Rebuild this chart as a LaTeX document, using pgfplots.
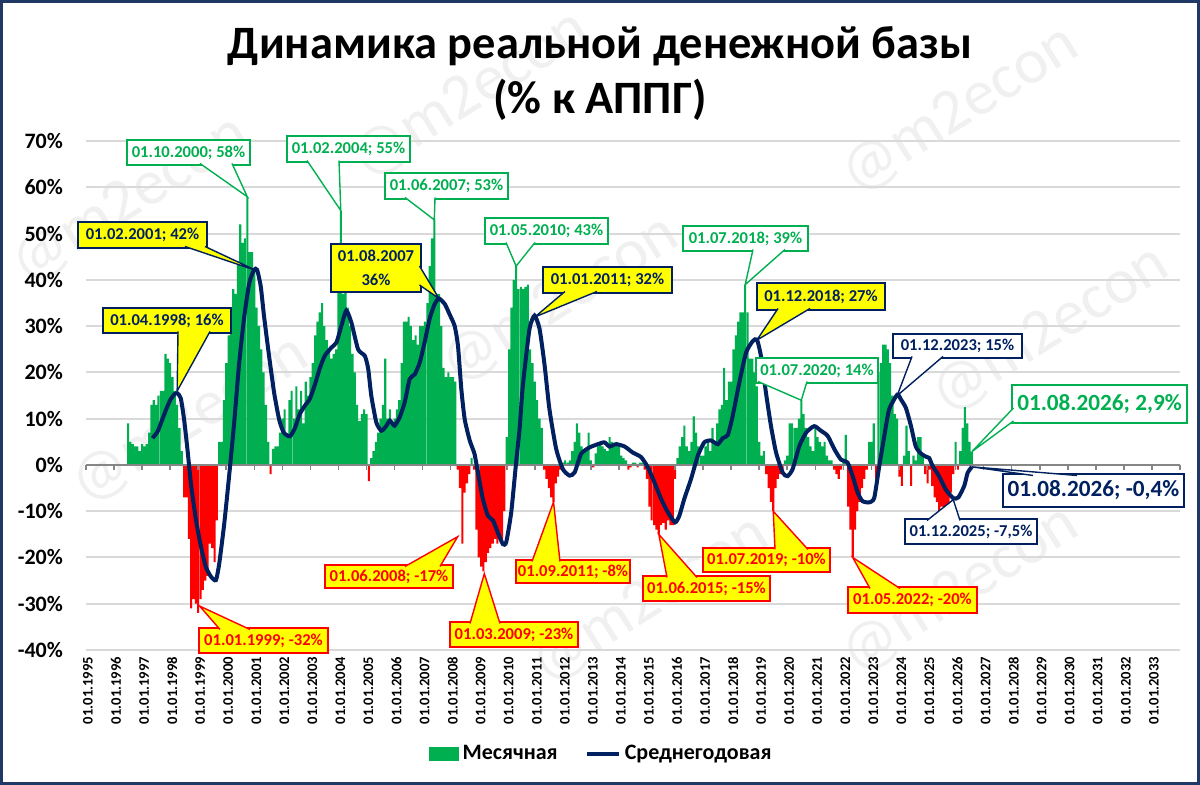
\documentclass[border=0pt]{standalone}
\usepackage{fontspec}
\setmainfont{Carlito}
\usepackage{pgfplots}
\usepackage{pgfplotstable}
\pgfplotsset{compat=1.18}
\definecolor{xgreen}{RGB}{0,176,80}
\definecolor{xred}{RGB}{255,0,0}
\definecolor{xnavy}{RGB}{0,32,96}
\definecolor{xyellow}{RGB}{255,255,0}
\definecolor{xgrid}{RGB}{217,217,217}
\definecolor{xborder}{RGB}{31,56,100}
\definecolor{xaxis}{RGB}{134,134,134}
\definecolor{xwm}{RGB}{240,240,240}

\pgfplotstableread{
yr m v
1996 7 9
1996 8 5
1996 9 4.5
1996 10 4
1996 11 4
1996 12 3
1997 1 4.5
1997 2 4
1997 3 4.5
1997 4 7
1997 5 13
1997 6 14
1997 7 13
1997 8 15
1997 9 16
1997 10 16
1997 11 24
1997 12 23
1998 1 22
1998 2 19
1998 3 16
1998 4 13
1998 5 8
1998 6 3
1998 7 -7
1998 8 -7
1998 9 -16
1998 10 -31
1998 11 -29
1998 12 -30
1999 1 -32
1999 2 -29
1999 3 -27
1999 4 -25
1999 5 -24
1999 6 -17
1999 7 -18
1999 8 -21
1999 9 -12
1999 10 5
1999 11 5
1999 12 14
2000 1 22
2000 2 28
2000 3 34
2000 4 38
2000 5 37
2000 6 44
2000 7 52
2000 8 48
2000 9 49
2000 10 58
2000 11 46
2000 12 46
2001 1 42
2001 2 34
2001 3 30
2001 4 25
2001 5 20
2001 6 13
2001 7 5
2001 8 -2
2001 9 3.5
2001 10 4
2001 11 4
2001 12 7
2002 1 10
2002 2 12
2002 3 6
2002 4 14
2002 5 16
2002 6 10
2002 7 17
2002 8 12
2002 9 16
2002 10 9
2002 11 18
2002 12 15
2003 1 19
2003 2 22
2003 3 28
2003 4 31
2003 5 33
2003 6 35
2003 7 30
2003 8 27
2003 9 25
2003 10 23
2003 11 24
2003 12 25
2004 1 38
2004 2 55
2004 3 37
2004 4 38
2004 5 34
2004 6 30
2004 7 24
2004 8 20
2004 9 13
2004 10 9.5
2004 11 11
2004 12 12
2005 1 11
2005 2 -3.5
2005 3 1.5
2005 4 3
2005 5 5
2005 6 7
2005 7 10
2005 8 13
2005 9 23
2005 10 10
2005 11 12
2005 12 9
2006 1 10
2006 2 12
2006 3 14
2006 4 22
2006 5 31
2006 6 31
2006 7 32
2006 8 30
2006 9 27
2006 10 28
2006 11 26
2006 12 30
2007 1 30
2007 2 31
2007 3 35
2007 4 43
2007 5 49
2007 6 53
2007 7 37
2007 8 37
2007 9 30
2007 10 21
2007 11 19
2007 12 20
2008 1 19
2008 2 19
2008 3 18
2008 4 -1
2008 5 -5
2008 6 -17
2008 7 -6
2008 8 -4
2008 9 -2
2008 10 1.5
2008 11 -1
2008 12 -14
2009 1 -20
2009 2 -22
2009 3 -23
2009 4 -21
2009 5 -19
2009 6 -18
2009 7 -17
2009 8 -16
2009 9 -17
2009 10 -16
2009 11 -17
2009 12 -10
2010 1 6
2010 2 25
2010 3 34
2010 4 40
2010 5 43
2010 6 38
2010 7 38.5
2010 8 38
2010 9 38.5
2010 10 39
2010 11 25
2010 12 22
2011 1 18
2011 2 14
2011 3 10
2011 4 8
2011 5 -1
2011 6 -3
2011 7 -5
2011 8 -7
2011 9 -8
2011 10 -4
2011 11 -2.5
2011 12 -1
2012 1 0.5
2012 2 1
2012 3 0.5
2012 4 1
2012 5 3
2012 6 5
2012 7 9
2012 8 7
2012 9 4
2012 10 3
2012 11 3
2012 12 7
2013 1 1
2013 2 -0.5
2013 3 2.5
2013 4 4
2013 5 5
2013 6 4
2013 7 3.5
2013 8 3
2013 9 6
2013 10 5
2013 11 4
2013 12 5
2014 1 4
2014 2 2
2014 3 1.5
2014 4 1
2014 5 -1
2014 6 -0.5
2014 7 0.5
2014 8 0.5
2014 9 -0.5
2014 10 0.5
2014 11 0.5
2014 12 -1
2015 1 -3
2015 2 -9
2015 3 -12
2015 4 -13
2015 5 -14
2015 6 -15
2015 7 -13
2015 8 -12.5
2015 9 -14
2015 10 -12
2015 11 -13
2015 12 -13
2016 1 -3
2016 2 1.5
2016 3 4
2016 4 6
2016 5 8.5
2016 6 4
2016 7 3
2016 8 5
2016 9 10.5
2016 10 7
2016 11 4
2016 12 2
2017 1 2
2017 2 4
2017 3 5
2017 4 3
2017 5 8
2017 6 5
2017 7 9
2017 8 12
2017 9 13
2017 10 21
2017 11 14
2017 12 18
2018 1 18
2018 2 25
2018 3 28
2018 4 31
2018 5 33
2018 6 33
2018 7 39
2018 8 33
2018 9 23
2018 10 23
2018 11 20
2018 12 17
2019 1 5
2019 2 2
2019 3 3
2019 4 -2
2019 5 -5
2019 6 -8
2019 7 -10
2019 8 -5
2019 9 -3
2019 10 -2
2019 11 -1
2019 12 1
2020 1 2
2020 2 9
2020 3 9
2020 4 8
2020 5 8
2020 6 10
2020 7 14
2020 8 11
2020 9 8
2020 10 6
2020 11 4
2020 12 3
2021 1 8
2021 2 6
2021 3 5
2021 4 4
2021 5 5
2021 6 2
2021 7 1
2021 8 1
2021 9 -1
2021 10 -2
2021 11 -3
2021 12 -1
2022 1 1
2022 2 6.5
2022 3 -9
2022 4 -14
2022 5 -20
2022 6 -14
2022 7 -10
2022 8 -8
2022 9 -5
2022 10 -3
2022 11 -1
2022 12 5
2023 1 5
2023 2 9
2023 3 -3
2023 4 20
2023 5 22
2023 6 26
2023 7 26
2023 8 25
2023 9 22
2023 10 15
2023 11 11
2023 12 10
2024 1 -2.5
2024 2 -4.5
2024 3 2
2024 4 8.5
2024 5 3
2024 6 -4.5
2024 7 2
2024 8 1
2024 9 6
2024 10 6
2024 11 2
2024 12 -2
2025 1 -4
2025 2 -1
2025 3 -4.5
2025 4 -7
2025 5 -8
2025 6 -10
2025 7 -9
2025 8 -10
2025 9 -9
2025 10 -9.5
2025 11 -6
2025 12 -2
2026 1 5
2026 2 -1
2026 3 3
2026 4 8
2026 5 12.5
2026 6 9
2026 7 5
2026 8 2.9
}\monthly

% #1 fill, #2 border/text colour, #3 font, #4 top-left, #5 bottom-right, #6 a, #7 b, #8 tip, #9 text
\newcommand\callout[9]{%
  \filldraw[fill=#1,draw=#2,line width=0.7pt] #4 rectangle #5;
  \fill[#1] #6 -- #8 -- #7 -- cycle;
  \draw[#2,line width=0.7pt,line join=miter] #6 -- #8 -- #7;
  \path #4 -- #5 node[midway,text=#2,font=#3,align=center,inner sep=0pt] {#9};
}
\newcommand\sfont{\fontsize{8.3}{10}\selectfont\bfseries}
\newcommand\bfont{\fontsize{11.6}{14}\selectfont\bfseries}

\begin{document}
\begin{tikzpicture}
\begin{scope}[x=0.5pt,y=-0.5pt,yshift=392.5pt]
  \useasboundingbox (0,0) rectangle (1200,785);
  \fill[white] (0,0) rectangle (1200,785);
  \foreach \wx/\wy in {470/95,960/110,190/420,560/300,1050/330,650/600,960/590,130/200}{
    \node[rotate=32,text=xwm,font=\fontsize{32}{36}\selectfont] at (\wx,\wy) {@m2econ};
  }
  \node[align=center,font=\fontsize{23.2}{27.5}\selectfont\bfseries] at (600,74) {Динамика реальной денежной базы\\(\% к АППГ)};
\end{scope}

\begin{axis}[
  at={(43pt,67.5pt)}, anchor=south west,
  scale only axis, width=547pt, height=254.375pt,
  xmin=1995, xmax=2034, ymin=-40, ymax=70,
  axis line style={draw=none},
  major tick length=0pt,
  tick style={draw=none},
  ytick={-40,-30,...,70},
  yticklabels={-40\%,-30\%,-20\%,-10\%,0\%,10\%,20\%,30\%,40\%,50\%,60\%,70\%},
  yticklabel style={font=\fontsize{11}{13}\selectfont\bfseries, xshift=-8pt},
  xtick={1995,...,2033},
  xticklabel={\pgfmathtruncatemacro\yr{round(\tick)}01.01.\yr},
  xticklabel style={rotate=90, anchor=east, font=\fontsize{7.3}{8}\selectfont\bfseries, yshift=-1pt},
  ymajorgrids, grid style={xgrid, line width=1pt},
  clip=false,
  legend style={at={(0.4717,-0.2044)}, anchor=center, draw=none, fill=none,
    legend columns=2, font=\fontsize{11}{13}\selectfont\bfseries,
    /tikz/every even column/.append style={column sep=12pt}},
  legend cell align=left,
]
\addplot[ybar, bar shift=0pt, bar width=0.074, fill=xgreen, draw=none,
  restrict y to domain=0:100,
  legend image code/.code={\fill[xgreen] (0pt,-3.6pt) rectangle (15pt,3.6pt);}]
  table[x expr=\thisrow{yr}+(\thisrow{m}-1)/12, y=v] {\monthly};
\addlegendentry{Месячная}
\addplot[ybar, bar shift=0pt, bar width=0.074, fill=xred, draw=none,
  restrict y to domain=-100:0, forget plot]
  table[x expr=\thisrow{yr}+(\thisrow{m}-1)/12, y=v] {\monthly};
\draw[xaxis, line width=1pt] (axis cs:1995,0) -- (axis cs:2034,0);
\pgfplotsinvokeforeach{1995,...,2034}{\draw[xaxis, line width=0.8pt] (axis cs:#1,0) -- ++(0pt,-2.6pt);}
\addplot[xnavy, line width=2pt, smooth, tension=0.35,
  legend image code/.code={\draw[xnavy,line width=1.6pt] (0pt,0pt) -- (16pt,0pt);}]
  coordinates {
(1997.37,5.8) (1997.55,7.2) (1997.7,9.5) (1997.85,11.9) (1998.0,14) (1998.15,15.3) (1998.26,15.5) (1998.38,14.4) (1998.5,9.7) (1998.62,3.2) (1998.74,-4) (1998.92,-11.9) (1999.1,-17.7) (1999.27,-22) (1999.45,-24.1) (1999.63,-24.9) (1999.75,-21.3) (1999.93,-12.6) (2000.1,-2.5) (2000.28,9) (2000.46,22) (2000.64,32) (2000.82,39.3) (2000.99,42.2) (2001.1,42.2) (2001.23,38.6) (2001.35,32) (2001.53,23.4) (2001.71,15.5) (2001.89,9.7) (2002.05,7) (2002.27,6.2) (2002.45,8) (2002.62,11) (2002.8,12.8) (2002.98,14.3) (2003.15,17.2) (2003.33,20.8) (2003.51,23.6) (2003.75,25.4) (2003.93,26.5) (2004.1,30) (2004.28,33.4) (2004.46,30.8) (2004.7,25) (2004.94,23.6) (2005.06,20.8) (2005.17,15) (2005.35,9.2) (2005.53,7.4) (2005.71,8.5) (2005.83,9.6) (2006.0,8.5) (2006.18,10.3) (2006.36,13.5) (2006.54,18.6) (2006.72,19.6) (2006.9,22.2) (2007.07,26.5) (2007.25,31.6) (2007.43,34.8) (2007.58,36) (2007.79,34.8) (2007.96,32.6) (2008.14,30.1) (2008.26,25.8) (2008.38,16.4) (2008.5,9.9) (2008.68,5.3) (2008.85,2.4) (2008.97,-1.6) (2009.15,-7.4) (2009.33,-11) (2009.51,-12) (2009.68,-14.6) (2009.86,-17.1) (2009.98,-16.7) (2010.16,-10.2) (2010.34,1) (2010.46,8) (2010.57,17) (2010.81,29.4) (2010.99,32.3) (2011.17,29.4) (2011.35,21.5) (2011.52,12.1) (2011.76,3.5) (2012.0,-0.9) (2012.24,-2.3) (2012.42,-1.6) (2012.65,2.4) (2012.95,3.8) (2013.25,4.5) (2013.48,4.9) (2013.66,4) (2013.9,4.5) (2014.2,4) (2014.49,2.7) (2014.79,1.7) (2015.03,-0.5) (2015.26,-3.7) (2015.5,-7.3) (2015.74,-10.2) (2016.0,-12.4) (2016.15,-11) (2016.33,-7.3) (2016.57,-3) (2016.81,2) (2017.04,4.9) (2017.28,5.3) (2017.52,4.5) (2017.7,5.8) (2017.88,6.5) (2018.05,10.5) (2018.29,17.8) (2018.53,24.3) (2018.77,26.8) (2018.92,27.1) (2019.06,23.6) (2019.24,15.6) (2019.42,8.4) (2019.6,2.7) (2019.84,-1.7) (2020.01,-2.4) (2020.19,-0.9) (2020.43,4.1) (2020.67,7) (2020.96,8.4) (2021.2,7.4) (2021.44,6.3) (2021.68,3.4) (2021.91,1.2) (2022.15,0.5) (2022.33,-2.4) (2022.51,-6) (2022.68,-7.8) (2022.92,-8.1) (2023.1,-7.1) (2023.28,-0.2) (2023.46,6.3) (2023.63,12) (2023.92,15.2) (2024.05,14.2) (2024.23,12.3) (2024.41,8.4) (2024.58,4) (2024.76,2.5) (2024.94,1.8) (2025.06,1.5) (2025.18,-0.2) (2025.41,-2.4) (2025.65,-5.3) (2025.92,-7.2) (2026.1,-7) (2026.31,-4.5) (2026.43,-1.7) (2026.58,-0.4)
  };
\addlegendentry{Среднегодовая}
% tips of the callouts
\coordinate (tG1) at (axis cs:2000.75,58);
\coordinate (tG2) at (axis cs:2004.083,55);
\coordinate (tG3) at (axis cs:2007.417,53);
\coordinate (tG4) at (axis cs:2010.333,43);
\coordinate (tG5) at (axis cs:2018.5,39);
\coordinate (tG6) at (axis cs:2020.5,14);
\coordinate (tG7) at (axis cs:2026.583,2.9);
\coordinate (tN1) at (axis cs:2023.917,15);
\coordinate (tN2) at (axis cs:2025.917,-7.5);
\coordinate (tN3) at (axis cs:2026.583,-0.4);
\coordinate (tY1) at (axis cs:1998.25,16);
\coordinate (tY2) at (axis cs:2001.083,42);
\coordinate (tY3) at (axis cs:2007.583,36);
\coordinate (tY4) at (axis cs:2011.0,32);
\coordinate (tY5) at (axis cs:2018.917,27);
\coordinate (tR1) at (axis cs:1999.05,-30.5);
\coordinate (tR2) at (axis cs:2008.25,-15.5);
\coordinate (tR3) at (axis cs:2009.2,-23.5);
\coordinate (tR4) at (axis cs:2011.667,-8);
\coordinate (tR5) at (axis cs:2015.42,-15);
\coordinate (tR6) at (axis cs:2019.5,-10);
\coordinate (tR7) at (axis cs:2022.333,-20);
\end{axis}

\begin{scope}[x=0.5pt,y=-0.5pt,yshift=392.5pt]
  % green (monthly maxima)
  \callout{white}{xgreen}{\sfont}{(127,140)}{(250,165)}{(200,163.5)}{(232,163.5)}{(tG1)}{01.10.2000; 58\%}
  \callout{white}{xgreen}{\sfont}{(287,136)}{(410,162)}{(307,160.5)}{(339,160.5)}{(tG2)}{01.02.2004; 55\%}
  \callout{white}{xgreen}{\sfont}{(385,173)}{(508,199)}{(405,197.5)}{(435,197.5)}{(tG3)}{01.06.2007; 53\%}
  \callout{white}{xgreen}{\sfont}{(485,218)}{(608,244)}{(506,242.5)}{(535,242.5)}{(tG4)}{01.05.2010; 43\%}
  \callout{white}{xgreen}{\sfont}{(683,226)}{(808,251)}{(753,249.5)}{(785,249.5)}{(tG5)}{01.07.2018; 39\%}
  \callout{white}{xgreen}{\sfont}{(756,358)}{(878,383)}{(758,381.5)}{(807,381.5)}{(tG6)}{01.07.2020; 14\%}
  \callout{white}{xgreen}{\bfont}{(1012,385)}{(1187,423)}{(1013.5,408)}{(1013.5,421)}{(tG7)}{01.08.2026; 2,9\%}
  % navy (average)
  \callout{white}{xnavy}{\sfont}{(893,334)}{(1022,358)}{(912,356.5)}{(943,356.5)}{(tN1)}{01.12.2023; 15\%}
  \callout{white}{xnavy}{\sfont}{(905,519)}{(1037,544)}{(927,520.5)}{(960,520.5)}{(tN2)}{01.12.2025; -7,5\%}
  \callout{white}{xnavy}{\bfont}{(1003,474)}{(1184,507)}{(1033,475.5)}{(1077,475.5)}{(tN3)}{01.08.2026; -0,4\%}
  % yellow, navy
  \callout{xyellow}{xnavy}{\sfont}{(103,308)}{(231,333)}{(178,331.5)}{(210,331.5)}{(tY1)}{01.04.1998; 16\%}
  \callout{xyellow}{xnavy}{\sfont}{(78,222)}{(207,248)}{(185,246.5)}{(205,246.5)}{(tY2)}{01.02.2001; 42\%}
  \callout{xyellow}{xnavy}{\sfont}{(331,244)}{(421,292)}{(419.5,266)}{(419.5,285)}{(tY3)}{01.08.2007\\[2pt]36\%}
  \callout{xyellow}{xnavy}{\sfont}{(543,267)}{(672,293)}{(565,291.5)}{(597,291.5)}{(tY4)}{01.01.2011; 32\%}
  \callout{xyellow}{xnavy}{\sfont}{(757,283)}{(885,310)}{(778,308.5)}{(810,308.5)}{(tY5)}{01.12.2018; 27\%}
  % yellow, red (monthly minima)
  \callout{xyellow}{xred}{\sfont}{(199,628)}{(328,653)}{(220,629.5)}{(250,629.5)}{(tR1)}{01.01.1999; -32\%}
  \callout{xyellow}{xred}{\sfont}{(325,565)}{(453,588)}{(405,566.5)}{(440,566.5)}{(tR2)}{01.06.2008; -17\%}
  \callout{xyellow}{xred}{\sfont}{(450,622)}{(578,647)}{(470,623.5)}{(500,623.5)}{(tR3)}{01.03.2009; -23\%}
  \callout{xyellow}{xred}{\sfont}{(516,560)}{(630,583)}{(532,561.5)}{(560,561.5)}{(tR4)}{01.09.2011; -8\%}
  \callout{xyellow}{xred}{\sfont}{(643,576)}{(770,601)}{(667,577.5)}{(697,577.5)}{(tR5)}{01.06.2015; -15\%}
  \callout{xyellow}{xred}{\sfont}{(703,548)}{(830,572)}{(775,549.5)}{(808,549.5)}{(tR6)}{01.07.2019; -10\%}
  \callout{xyellow}{xred}{\sfont}{(848,587)}{(977,613)}{(870,588.5)}{(900,588.5)}{(tR7)}{01.05.2022; -20\%}
  % frame
  \draw[xborder, line width=1.5pt] (1.5,1.5) rectangle (1198.5,783.5);
\end{scope}
\end{tikzpicture}
\end{document}
